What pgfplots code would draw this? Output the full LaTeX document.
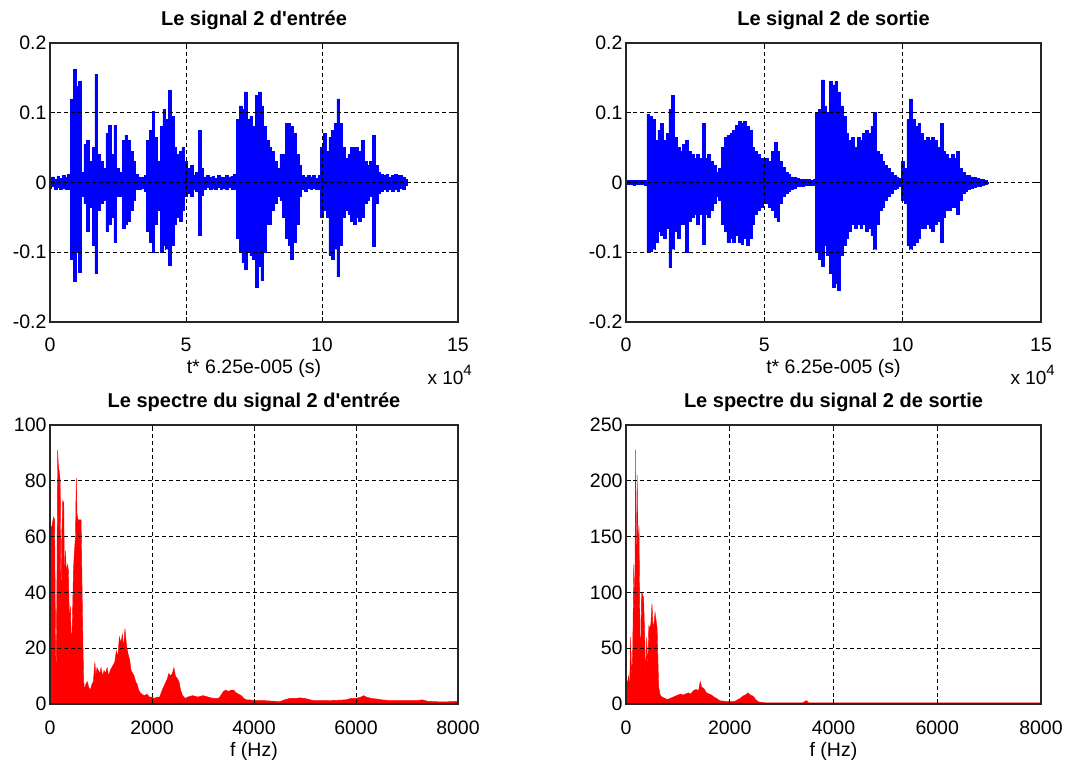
\documentclass[border=0pt]{standalone}
\usepackage{fontspec}
\setmainfont{Liberation Sans}[Ligatures=TeXOff]
\usepackage{pgfplots}
\usepackage{pgfplotstable}
\pgfplotsset{compat=1.18}

\pgfplotstableread{
t hi lo
0.0 0.006 -0.008
0.1 0.008 -0.006
0.2 0.005 -0.010
0.3 0.009 -0.007
0.4 0.006 -0.009
0.5 0.010 -0.008
0.6 0.007 -0.010
0.7 0.012 -0.009
0.8 0.120 -0.110
0.9 0.162 -0.142
1.0 0.138 -0.100
1.1 0.145 -0.128
1.2 0.015 -0.020
1.3 0.055 -0.030
1.4 0.060 -0.070
1.5 0.030 -0.035
1.6 0.050 -0.090
1.7 0.155 -0.130
1.8 0.040 -0.040
1.9 0.030 -0.030
2.0 0.020 -0.025
2.1 0.070 -0.070
2.2 0.082 -0.060
2.3 0.040 -0.050
2.4 0.082 -0.085
2.5 0.020 -0.020
2.6 0.015 -0.020
2.7 0.060 -0.065
2.8 0.068 -0.060
2.9 0.060 -0.055
3.0 0.045 -0.040
3.1 0.030 -0.025
3.2 0.012 -0.010
3.3 0.008 -0.010
3.4 0.007 -0.008
3.5 0.010 -0.012
3.6 0.060 -0.070
3.7 0.075 -0.085
3.8 0.102 -0.100
3.9 0.065 -0.060
4.0 0.030 -0.040
4.1 0.080 -0.100
4.2 0.105 -0.090
4.3 0.090 -0.095
4.4 0.132 -0.118
4.5 0.095 -0.090
4.6 0.050 -0.060
4.7 0.040 -0.050
4.8 0.045 -0.055
4.9 0.050 -0.040
5.0 0.030 -0.020
5.1 0.020 -0.015
5.2 0.025 -0.020
5.3 0.010 -0.010
5.4 0.015 -0.012
5.5 0.075 -0.075
5.6 0.020 -0.018
5.7 0.008 -0.010
5.8 0.010 -0.007
5.9 0.007 -0.009
6.0 0.009 -0.008
6.1 0.006 -0.010
6.2 0.010 -0.007
6.3 0.008 -0.009
6.4 0.007 -0.008
6.5 0.010 -0.010
6.6 0.008 -0.007
6.7 0.009 -0.009
6.8 0.012 -0.010
6.9 0.090 -0.080
7.0 0.110 -0.100
7.1 0.105 -0.115
7.2 0.130 -0.125
7.3 0.090 -0.100
7.4 0.095 -0.105
7.5 0.080 -0.110
7.6 0.125 -0.150
7.7 0.130 -0.120
7.8 0.110 -0.140
7.9 0.080 -0.100
8.0 0.060 -0.060
8.1 0.050 -0.060
8.2 0.045 -0.040
8.3 0.030 -0.030
8.4 0.020 -0.020
8.5 0.040 -0.025
8.6 0.040 -0.050
8.7 0.085 -0.080
8.8 0.085 -0.090
8.9 0.080 -0.110
9.0 0.070 -0.085
9.1 0.040 -0.060
9.2 0.025 -0.020
9.3 0.010 -0.010
9.4 0.008 -0.012
9.5 0.010 -0.008
9.6 0.008 -0.010
9.7 0.010 -0.008
9.8 0.006 -0.010
9.9 0.010 -0.010
10.0 0.050 -0.050
10.1 0.070 -0.040
10.2 0.045 -0.050
10.3 0.065 -0.105
10.4 0.075 -0.110
10.5 0.085 -0.095
10.6 0.120 -0.135
10.7 0.085 -0.090
10.8 0.050 -0.050
10.9 0.035 -0.040
11.0 0.040 -0.045
11.1 0.050 -0.055
11.2 0.050 -0.060
11.3 0.050 -0.050
11.4 0.045 -0.055
11.5 0.060 -0.050
11.6 0.030 -0.030
11.7 0.025 -0.025
11.8 0.030 -0.020
11.9 0.068 -0.092
12.0 0.025 -0.030
12.1 0.015 -0.015
12.2 0.012 -0.012
12.3 0.010 -0.010
12.4 0.012 -0.012
12.5 0.008 -0.010
12.6 0.010 -0.012
12.7 0.012 -0.010
12.8 0.010 -0.012
12.9 0.010 -0.008
13.0 0.008 -0.010
13.1 0.004 -0.004
13.2 0.000 0.000
}\sigin

\pgfplotstableread{
t hi lo
0.0 0.003 -0.003
0.1 0.003 -0.003
0.2 0.003 -0.003
0.3 0.003 -0.004
0.4 0.003 -0.003
0.5 0.003 -0.003
0.6 0.003 -0.003
0.7 0.003 -0.004
0.8 0.098 -0.100
0.9 0.095 -0.098
1.0 0.090 -0.095
1.1 0.060 -0.085
1.2 0.075 -0.070
1.3 0.085 -0.075
1.4 0.060 -0.080
1.5 0.070 -0.065
1.6 0.105 -0.122
1.7 0.125 -0.095
1.8 0.065 -0.070
1.9 0.050 -0.080
2.0 0.045 -0.060
2.1 0.055 -0.060
2.2 0.060 -0.100
2.3 0.045 -0.055
2.4 0.040 -0.050
2.5 0.035 -0.045
2.6 0.040 -0.060
2.7 0.035 -0.045
2.8 0.085 -0.088
2.9 0.035 -0.045
3.0 0.040 -0.050
3.1 0.030 -0.040
3.2 0.025 -0.030
3.3 0.015 -0.020
3.4 0.020 -0.025
3.5 0.050 -0.060
3.6 0.065 -0.070
3.7 0.068 -0.085
3.8 0.070 -0.080
3.9 0.075 -0.085
4.0 0.082 -0.075
4.1 0.088 -0.085
4.2 0.085 -0.088
4.3 0.088 -0.080
4.4 0.080 -0.090
4.5 0.075 -0.080
4.6 0.050 -0.060
4.7 0.045 -0.045
4.8 0.040 -0.040
4.9 0.035 -0.035
5.0 0.030 -0.030
5.1 0.035 -0.030
5.2 0.030 -0.035
5.3 0.045 -0.040
5.4 0.058 -0.050
5.5 0.045 -0.055
5.6 0.030 -0.030
5.7 0.022 -0.020
5.8 0.015 -0.015
5.9 0.012 -0.012
6.0 0.008 -0.010
6.1 0.007 -0.008
6.2 0.006 -0.006
6.3 0.005 -0.006
6.4 0.004 -0.005
6.5 0.004 -0.004
6.6 0.004 -0.004
6.7 0.003 -0.004
6.8 0.004 -0.004
6.9 0.100 -0.100
7.0 0.105 -0.110
7.1 0.147 -0.120
7.2 0.110 -0.090
7.3 0.100 -0.105
7.4 0.145 -0.130
7.5 0.140 -0.150
7.6 0.145 -0.145
7.7 0.130 -0.155
7.8 0.110 -0.105
7.9 0.095 -0.090
8.0 0.070 -0.080
8.1 0.060 -0.070
8.2 0.065 -0.060
8.3 0.050 -0.065
8.4 0.065 -0.060
8.5 0.060 -0.065
8.6 0.070 -0.060
8.7 0.075 -0.070
8.8 0.070 -0.065
8.9 0.080 -0.075
9.0 0.100 -0.095
9.1 0.045 -0.060
9.2 0.040 -0.040
9.3 0.030 -0.035
9.4 0.025 -0.025
9.5 0.020 -0.020
9.6 0.015 -0.015
9.7 0.010 -0.010
9.8 0.008 -0.008
9.9 0.006 -0.006
10.0 0.030 -0.025
10.1 0.020 -0.030
10.2 0.090 -0.090
10.3 0.120 -0.095
10.4 0.090 -0.090
10.5 0.080 -0.085
10.6 0.085 -0.080
10.7 0.070 -0.065
10.8 0.060 -0.065
10.9 0.065 -0.060
11.0 0.060 -0.065
11.1 0.065 -0.070
11.2 0.060 -0.060
11.3 0.050 -0.055
11.4 0.085 -0.085
11.5 0.045 -0.050
11.6 0.040 -0.040
11.7 0.035 -0.040
11.8 0.040 -0.035
11.9 0.035 -0.035
12.0 0.045 -0.045
12.1 0.020 -0.025
12.2 0.015 -0.015
12.3 0.010 -0.012
12.4 0.010 -0.010
12.5 0.008 -0.008
12.6 0.007 -0.007
12.7 0.006 -0.006
12.8 0.005 -0.005
12.9 0.004 -0.004
13.0 0.003 -0.003
13.1 0.001 -0.001
}\sigout

\pgfplotstableread{
f a
0 88
10 64
30 63
50 65
70 67
90 66
110 20
120 10
135 40
150 91
165 85
185 83
200 80
215 35
230 60
250 73
270 72
285 40
300 55
320 47
340 50
360 48
380 30
400 35
420 20
440 30
460 48
480 55
500 60
515 81
530 68
550 66
580 66
610 66
630 40
645 23
660 8
680 5
700 7
730 8
760 6
790 5
820 7
850 8
880 15
900 10
920 13
950 12
980 11
1000 13
1030 10
1060 12
1090 11
1120 13
1150 10
1180 12
1210 13
1240 14
1270 15
1300 19
1330 17
1360 24
1390 22
1420 25
1440 20
1470 27
1500 21
1530 18
1560 16
1590 12
1620 11
1650 10
1680 8
1710 7
1740 5
1770 4
1800 3.5
1850 3
1900 3.5
1950 2.5
2000 2.5
2050 2
2100 2.5
2150 2.5
2200 5
2250 7
2300 9
2330 11
2360 10
2400 11
2430 13
2460 10
2500 9
2530 8
2560 5
2600 3
2650 2
2700 2.5
2800 3
2900 2.5
3000 3
3100 2.5
3200 2
3300 2
3350 3
3400 4.5
3450 5
3500 4.5
3550 5
3600 5
3650 4
3700 3.5
3750 3
3800 2
3850 1.5
3900 1.5
4000 1.2
4200 1.2
4400 1
4500 0.8
4600 1.5
4700 2
4800 2
4900 2.2
5000 2
5100 1.5
5200 1.2
5400 1.2
5600 1.3
5800 1.5
5900 2
6000 2
6100 2.5
6150 3
6200 2.5
6300 2
6400 1.8
6500 1.5
6700 1.2
7000 1.2
7200 1.2
7300 1.5
7400 1
7600 0.8
7800 0.8
8000 1
}\specin

\pgfplotstableread{
f a
0 25
25 18
50 25
70 15
90 60
110 20
130 50
150 125
170 80
185 228
200 80
215 205
230 140
250 160
270 60
285 50
300 100
320 98
340 95
360 60
380 25
400 60
420 30
440 70
460 68
480 72
500 90
520 70
540 72
560 82
580 75
600 68
615 40
630 15
660 8
700 6
750 5
800 4
850 5
900 6
950 7
1000 8
1050 9
1100 8
1150 9
1200 10
1250 9
1300 12
1350 13
1400 12
1430 20
1460 15
1500 14
1550 10
1600 9
1650 8
1700 6
1750 5
1800 3
1900 2.5
2000 2
2100 2.5
2200 5
2250 7
2300 8
2350 10
2400 8
2450 7
2500 4
2550 2
2600 1.5
2700 1
3000 1
3400 1
3480 3
3520 1
4000 1
5000 1
6000 1
7000 1
8000 1
}\specout

\pgfplotsset{
  matlab/.style={
    scale only axis,
    axis on top,
    clip mode=individual,
    anchor=south west,
    grid=major,
    grid style={black, line width=0.9pt, dash pattern=on 4pt off 3pt},
    axis line style={black!85, line width=1.1pt},
    tick style={black, line width=0.9pt},
    major tick length=5pt,
    tick align=inside,
    tick pos=both,
    tick label style={font=\fontsize{19.5}{22}\selectfont},
    label style={font=\fontsize{19.5}{22}\selectfont},
    title style={font=\fontsize{20}{24}\selectfont\bfseries, at={(axis description cs:0.5,1)}, anchor=base, yshift=11pt},
    xticklabel style={anchor=base, yshift=-30pt},
    xlabel style={at={(axis description cs:0.5,0)}, anchor=base, yshift=-52pt},
    yticklabel style={anchor=east},
  },
  sigax/.style={matlab, width=408pt, height=279pt,
    xmin=0, xmax=15, ymin=-0.2, ymax=0.2,
    xtick={0,5,10,15}, xticklabels={0,5,10,15},
    ytick={-0.2,-0.1,0,0.1,0.2}, yticklabels={-0.2,-0.1,0,0.1,0.2},
    xlabel={t* 6.25e-005 (s)}},
  specax/.style={matlab, width=408pt, height=279pt,
    xmin=0, xmax=8000, ymin=0,
    xtick={0,2000,4000,6000,8000}, xticklabels={0,2000,4000,6000,8000},
    xlabel={f (Hz)}},
}

\begin{document}
\begin{tikzpicture}[x=1pt,y=1pt]
\path (0,0) rectangle (1071,763);

\begin{axis}[sigax, at={(50pt,441pt)}, title={Le signal 2 d'entrée}]
\addplot[draw=blue, fill=blue, line width=0.5pt, const plot mark mid] table[x=t,y=hi]{\sigin} \closedcycle;
\addplot[draw=blue, fill=blue, line width=0.5pt, const plot mark mid] table[x=t,y=lo]{\sigin} \closedcycle;
\node[anchor=base east, inner sep=0pt, font=\fontsize{19}{22}\selectfont] at (axis description cs:1,0) [xshift=14pt, yshift=-63pt] {x 10\raisebox{9pt}{\fontsize{15}{16}\selectfont 4}};
\end{axis}

\begin{axis}[sigax, width=415pt, at={(626pt,441pt)}, title={Le signal 2 de sortie}]
\addplot[draw=blue, fill=blue, line width=0.5pt, const plot mark mid] table[x=t,y=hi]{\sigout} \closedcycle;
\addplot[draw=blue, fill=blue, line width=0.5pt, const plot mark mid] table[x=t,y=lo]{\sigout} \closedcycle;
\node[anchor=base east, inner sep=0pt, font=\fontsize{19}{22}\selectfont] at (axis description cs:1,0) [xshift=14pt, yshift=-63pt] {x 10\raisebox{9pt}{\fontsize{15}{16}\selectfont 4}};
\end{axis}

\begin{axis}[specax, at={(50pt,59pt)}, ymax=100,
  ytick={0,20,40,60,80,100}, yticklabels={0,20,40,60,80,100},
  title={Le spectre du signal 2 d'entrée}]
\addplot[draw=red, fill=red, line width=0.4pt] table[x=f,y=a]{\specin} \closedcycle;
\end{axis}

\begin{axis}[specax, width=415pt, at={(626pt,59pt)}, ymax=250,
  ytick={0,50,100,150,200,250}, yticklabels={0,50,100,150,200,250},
  title={Le spectre du signal 2 de sortie}]
\addplot[draw=red, fill=red, line width=0.4pt] table[x=f,y=a]{\specout} \closedcycle;
\end{axis}
\end{tikzpicture}
\end{document}
